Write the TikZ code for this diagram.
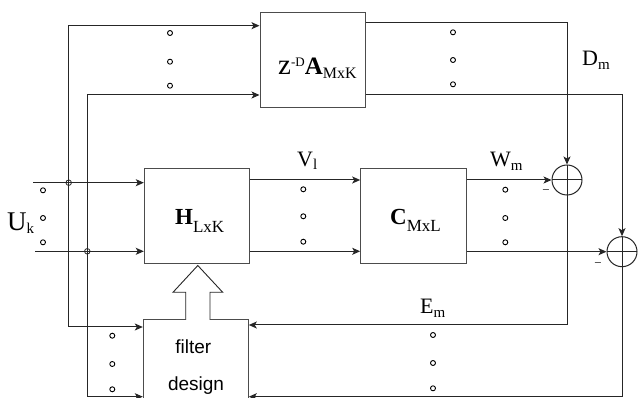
\documentclass[tikz,border=0pt]{standalone}
\usepackage{fontspec}
\setmainfont{Liberation Serif}
\newfontfamily\arialf{Liberation Sans}
\usetikzlibrary{arrows.meta}
\newcommand{\fs}[1]{\fontsize{#1}{#1}\selectfont}
\newcommand{\sublab}[2]{{\fs{22}#1}\raisebox{-3.5pt}{\fs{15}#2}}
\tikzset{
  blk/.style={draw=black!70, line width=1pt, inner sep=0pt},
  ln/.style={line width=1pt, draw=black!85},
  arr/.style={ln, -{Stealth[length=8pt,width=7pt,inset=2pt]}},
  sumnode/.style={circle, draw=black!85, line width=1pt, minimum size=30pt, inner sep=0pt,
    path picture={\draw[line width=1pt,black!85] (path picture bounding box.north) -- (path picture bounding box.south)
      (path picture bounding box.west) -- (path picture bounding box.east);}},
  dotc/.style={circle, draw=black, line width=0.9pt, minimum size=5pt, inner sep=0pt},
  junc/.style={circle, draw=black!85, line width=0.8pt, minimum size=5.5pt, inner sep=0pt},
  lab/.style={anchor=base west, inner sep=0pt},
}
\begin{document}
\begin{tikzpicture}[x=1pt,y=-1pt]
\useasboundingbox[fill=white] (0,0) rectangle (638,398);

% blocks
\node[blk, minimum width=105pt, minimum height=95.5pt] (A) at (312.5,60.25) {};
\node[blk, minimum width=105.4pt, minimum height=95pt] (H) at (197,216.5) {};
\node[blk, minimum width=105.6pt, minimum height=95pt] (C) at (413.5,216.5) {};
\node[blk, minimum width=105pt, minimum height=90pt] (F) at (195.8,365) {};
\node[sumnode] (S1) at (567,180) {};
\node[sumnode] (S2) at (622,251.7) {};

% block labels
\node[lab] (Alab) at (278,75) {{\fs{29}z}\raisebox{8.3pt}{\fs{13}-D}{\fs{25}\bfseries A}\raisebox{-3.3pt}{\fs{16}MxK}};
\node[lab] (Hlab) at (175,225) {{\fs{23}\bfseries H}\raisebox{-8pt}{\fs{17}LxK}};
\node[lab] (Clab) at (390,225) {{\fs{23}\bfseries C}\raisebox{-6.7pt}{\fs{17}MxL}};
\node[anchor=base, inner sep=0pt] (Ft1) at (193.3,354) {\arialf\fs{19}filter};
\node[anchor=base, inner sep=0pt] (Ft2) at (196,391) {\arialf\fs{19}design};

% signal labels
\node[lab] (Uk) at (7,231) {{\fs{27}U}\raisebox{-3pt}{\fs{15}k}};
\node[lab] (Vl) at (297,166.5) {\sublab{V}{l}};
\node[lab] (Wm) at (490,167) {\sublab{W}{m}};
\node[lab] (Dm) at (582,66) {\sublab{D}{m}};
\node[lab] (Em) at (420,314) {\sublab{E}{m}};
\node[inner sep=0pt] (m1) at (546,191.7) {\fs{13}−};
\node[inner sep=0pt] (m2) at (598,265) {\fs{13}−};

% input lines and branches
\coordinate (u1) at (33,182.7);
\coordinate (u2) at (35,251.3);
\node[junc] (j1) at (68.7,182.7) {};
\node[junc] (j2) at (87.3,251.3) {};
\coordinate (tA1) at (68.7,25.7);
\coordinate (bA1) at (68.7,327);
\coordinate (tA2) at (87.3,95);
\coordinate (bA2) at (87.3,396.7);
\draw[arr] (u1) -- (H.west |- u1);
\draw[arr] (u2) -- (H.west |- u2);
\draw[arr] (j1.center) -- (tA1) -- (A.west |- tA1);
\draw[arr] (j1.center) -- (bA1) -- (F.west |- bA1);
\draw[arr] (j2.center) -- (tA2) -- (A.west |- tA2);
\draw[arr] (j2.center) -- (bA2) -- (F.west |- bA2);

% H -> C
\draw[arr] ([yshift=36.5pt]H.east) -- ([yshift=36.5pt]C.west);
\draw[arr] ([yshift=-34.8pt]H.east) -- ([yshift=-34.8pt]C.west);

% C -> sums
\draw[arr] (C.east |- S1) -- (S1.west);
\draw[arr] (C.east |- S2) -- (S2.west);

% A -> sums
\draw[arr] ([yshift=37.5pt]A.east) -| (S1.north);
\draw[arr] ([yshift=-34.75pt]A.east) -| (S2.north);

% feedback
\coordinate (fb1) at (567,325);
\coordinate (fb2) at (622,396.7);
\draw[arr] (S1.south) -- (fb1) -- (F.east |- fb1);
\draw[arr] (S2.south) -- (fb2) -- (F.east |- fb2);

% block arrow filter -> H
\draw[ln, line width=0.9pt, fill=white] (185.7,320) -- (185.7,292.3) -- (173,292.3) -- (197.8,265.5)
  -- (222.7,292.3) -- (210,292.3) -- (210,320);

% dots
\foreach \x/\y in {170/33,170/61.7,170/85.7, 453/32.3,453/60,453/84.3,
  43/190.3,43/218,43/242.3, 303.3/189.3,303.3/216.3,303.3/241.7,
  505.3/189.7,505.3/218,505.3/242.3, 112.3/335.7,112.3/364,112.3/389.3,
  433/335,433/363,433/388.3}
  \node[dotc] at (\x,\y) {};
\end{tikzpicture}
\end{document}
